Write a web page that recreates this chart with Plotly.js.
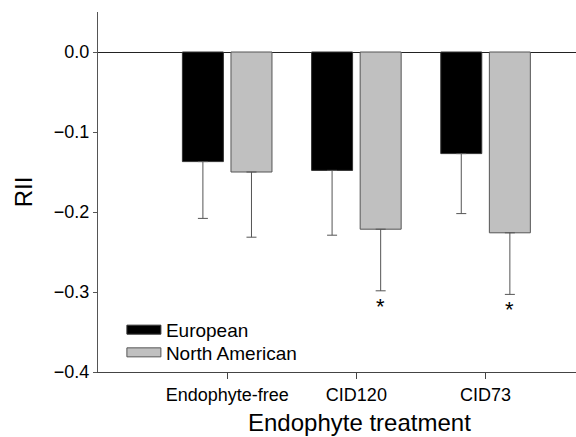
<!DOCTYPE html>
<html>
<head>
<meta charset="utf-8">
<script src="https://cdn.plot.ly/plotly-3.0.1.min.js"></script>
<style>html,body{margin:0;padding:0;background:#fff;}#chart{width:576px;height:437px;}</style>
</head>
<body>
<div id="chart"></div>
<script>
const categories = ['Endophyte-free', 'CID120', 'CID73'];
const europeanRII = [-0.137, -0.148, -0.127];
const europeanErr = [0.071, 0.081, 0.075];
const northAmericanRII = [-0.150, -0.2215, -0.226];
const northAmericanErr = [0.0815, 0.077, 0.077];
const significant = ['', '*', '*'];

const font = 'Liberation Sans, Arial, Helvetica, sans-serif';

const traces = [
  {
    type: 'bar', name: 'European', x: categories, y: europeanRII,
    marker: {color: '#000000', line: {color: '#333333', width: 1}},
    error_y: {type: 'data', symmetric: false, array: [0,0,0], arrayminus: europeanErr,
              color: '#555555', thickness: 1, width: 5}
  },
  {
    type: 'bar', name: 'North American', x: categories, y: northAmericanRII,
    marker: {color: '#c0c0c0', line: {color: '#555555', width: 1}},
    error_y: {type: 'data', symmetric: false, array: [0,0,0], arrayminus: northAmericanErr,
              color: '#555555', thickness: 1, width: 5}
  }
];

const annotations = [];
categories.forEach((c, i) => {
  if (significant[i]) {
    annotations.push({
      x: c, y: northAmericanRII[i] - northAmericanErr[i], xref: 'x', yref: 'y',
      text: significant[i], showarrow: false, xshift: 24.3, yshift: -1,
      yanchor: 'top', font: {family: font, size: 22, color: '#000'}
    });
  }
});
annotations.push({
  xref: 'paper', yref: 'paper', x: 0.548, y: 0, yshift: -50,
  xanchor: 'center', yanchor: 'middle', showarrow: false,
  text: 'Endophyte treatment', font: {family: font, size: 24, color: '#000'}
});

const layout = {
  width: 576, height: 437,
  margin: {l: 98, r: 0, t: 12, b: 65},
  paper_bgcolor: '#fff', plot_bgcolor: '#fff',
  barmode: 'group', bargap: 0.248, bargroupgap: 0.156,
  showlegend: true,
  legend: {x: 0.05, y: 0.17, xanchor: 'left', yanchor: 'top',
           font: {family: font, size: 19, color: '#000'},
           bgcolor: 'rgba(0,0,0,0)', itemwidth: 34, tracegroupgap: 0},
  xaxis: {
    type: 'category', range: [-1, 2.7],
    showline: true, linecolor: '#444', linewidth: 1,
    ticks: 'outside', ticklen: 6, tickcolor: '#444',
    showgrid: false, zeroline: false,
    tickfont: {family: font, size: 18, color: '#000'},
    automargin: false
  },
  yaxis: {
    range: [-0.4, 0.05], dtick: 0.1, tick0: 0, tickformat: '.1f',
    showline: true, linecolor: '#555', linewidth: 1,
    ticks: 'outside', ticklen: 4, tickcolor: '#555',
    showgrid: false, zeroline: true, zerolinecolor: '#222', zerolinewidth: 1,
    tickfont: {family: font, size: 18, color: '#000'},
    title: {text: 'RII', font: {family: font, size: 24, color: '#000'}, standoff: 14},
    automargin: false
  },
  annotations: annotations
};

Plotly.newPlot('chart', traces, layout, {staticPlot: true}).then(gd => {
  gd.querySelectorAll('.legend .legendpoints path').forEach(p => {
    p.setAttribute('d', 'M-17,4.5H17V-4.5H-17Z');
  });
  // tighten legend row spacing to match the reference
  const items = gd.querySelectorAll('.legend .traces');
  let y0 = null;
  items.forEach((g, k) => {
    const m = /translate\(([-\d.]+),\s*([-\d.]+)\)/.exec(g.getAttribute('transform') || '');
    if (!m) return;
    const x = parseFloat(m[1]), y = parseFloat(m[2]);
    if (y0 === null) y0 = y;
    g.setAttribute('transform', 'translate(' + x + ',' + (y0 + k * 22.7) + ')');
  });
});
</script>
</body>
</html>
